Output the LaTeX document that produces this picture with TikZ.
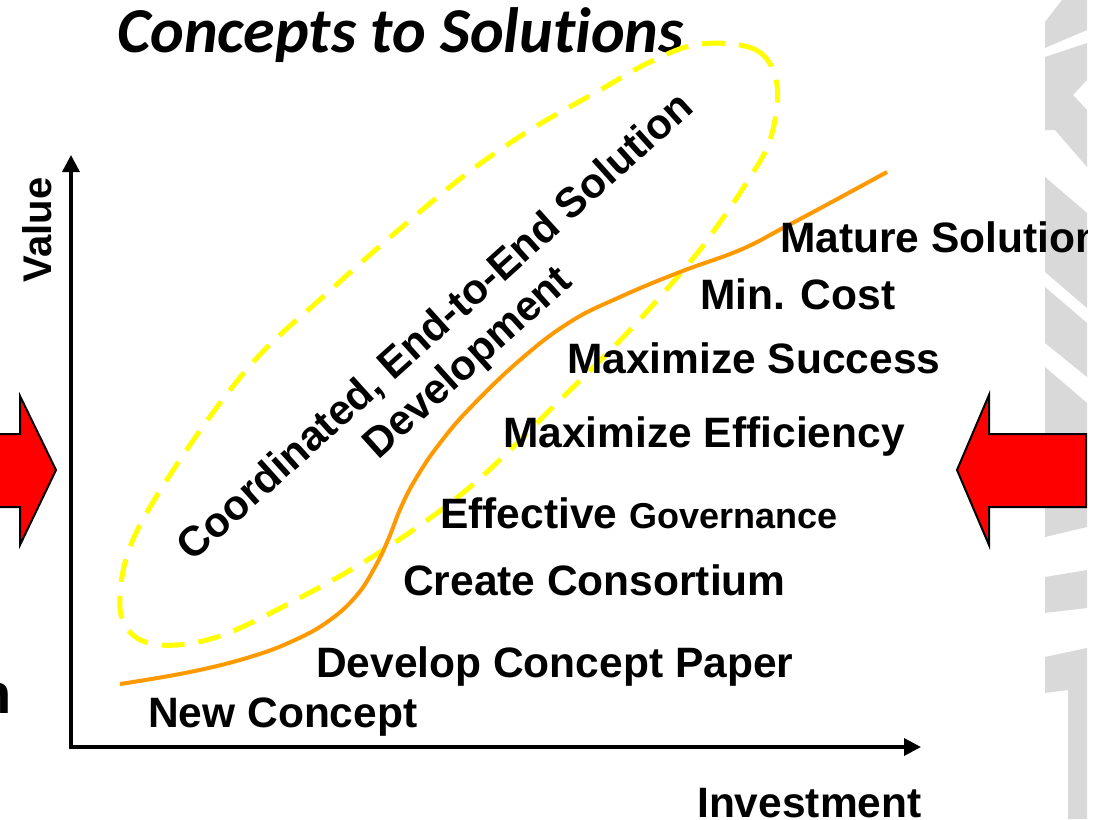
\documentclass[tikz,border=0pt]{standalone}
\usepackage{fontspec}
\setmainfont{Liberation Sans}
\newfontfamily\titlefont[Ligatures={NoCommon}]{Carlito}
\usetikzlibrary{arrows.meta}
\definecolor{wm}{HTML}{D9D9D9}
\definecolor{curveorange}{HTML}{FF9900}
\definecolor{loopyellow}{HTML}{FFFF00}
\definecolor{arrowred}{HTML}{FF0000}
\begin{document}
\begin{tikzpicture}[x=1pt,y=-1pt,
  lbl/.style={font=\fontsize{42.5}{48}\selectfont\bfseries, inner sep=0pt, anchor=base west},
  axisline/.style={line width=3.5pt, -{Triangle[width=17pt,length=17pt]}},
  bigarrow/.style={fill=arrowred, draw=black, line width=2pt, line join=miter},
  wmshape/.style={fill=wm, draw=none}]
\useasboundingbox (0,0) rectangle (1105,819);
\fill[white] (0,0) rectangle (1105,819);
% watermark fragments
\fill[wmshape] (1062,0) -- (1087,0) -- (1087,30) -- (1045,48) -- (1045,22) -- cycle;
\fill[wmshape] (1045,57) -- (1087,43) -- (1087,80) -- (1073,95) -- (1087,110) -- (1087,167) -- (1055,130) -- (1045,130) -- cycle;
\fill[wmshape] (1045,177) -- (1087,213) -- (1087,308) -- (1045,272) -- cycle;
\fill[wmshape] (1045,287) -- (1087,323) -- (1087,377) -- (1045,343) -- cycle;
\fill[wmshape] (1045,367) -- (1087,403) -- (1087,440) -- (1045,440) -- cycle;
\fill[wmshape] (1045,497) -- (1087,497) -- (1087,527) -- (1045,537) -- cycle;
\fill[wmshape] (1045,577) -- (1087,570) -- (1087,608) -- (1045,613) -- cycle;
\fill[wmshape] (1045,657) -- (1087,648) -- (1087,819) -- (1068,819) -- (1068,690) -- (1045,693) -- cycle;
% title
\node[font=\titlefont\fontsize{64}{70}\selectfont\bfseries\itshape, inner sep=0pt, anchor=base west] (title) at (117,52) {Concepts to Solutions};
% axes
\coordinate (origin) at (71,747);
\coordinate (ytip) at (71,155);
\coordinate (xtip) at (921,747);
\draw[axisline] ([yshift=1.75pt]origin) -- (ytip);
\draw[axisline] ([xshift=-1.75pt]origin) -- (xtip);
\node[font=\fontsize{40}{46}\selectfont\bfseries, inner sep=0pt, rotate=90] (value) at (37,230) {Value};
\node[lbl] (invest) at (697,817) {Investment};
% dashed loop
\draw[loopyellow, line width=5pt, dash pattern=on 23pt off 14pt]
  plot[smooth cycle, tension=0.6] coordinates {
  (700,44) (756,50) (777,85) (770,140) (745,185) (718,225) (690,262) (630,330)
  (560,400) (470,487) (380,552) (290,603) (217,637) (160,645) (128,630) (120,595)
  (135,535) (190,445) (255,360) (325,295) (395,233) (465,175) (530,130) (600,90) (650,62)};
% orange curve
\draw[curveorange, line width=4pt]
  plot[smooth, tension=0.7] coordinates {
  (120,684) (190,672) (250,657) (295,640) (330,620) (357,595) (375,567) (388,540)
  (402,505) (418,475) (440,443) (470,408) (520,360) (570,322) (620,297) (680,272)
  (740,250) (783,228) (830,203) (887,172)};
% stage labels
\node[lbl] (mature) at (780,252) {Mature Solution};
\node[lbl] (mincost) at (700,309) {Min. Cost};
\node[lbl] (maxsucc) at (567,373) {Maximize Success};
\node[lbl] (maxeff) at (503,447) {Maximize Efficiency};
\node[lbl] (effgov) at (440,528) {Effective {\fontsize{36}{40}\selectfont Governance}};
\node[lbl] (consort) at (403,595) {Create Consortium};
\node[lbl] (paper) at (316,677) {Develop Concept Paper};
\node[lbl] (newc) at (148,727) {New Concept};
% rotated loop label
\node[font=\fontsize{42}{48}\selectfont\bfseries, inner sep=0pt, rotate=42, align=center] (coord) at (453,346)
  {Coordinated, End-to-End Solution\\Development};
% red arrows
\draw[bigarrow] (-10,434) -- (20,434) -- (20,396) -- (56,470) -- (20,545) -- (20,507) -- (-10,507) -- cycle;
\draw[bigarrow] (1086,434) -- (989,434) -- (989,395) -- (957,470) -- (989,545) -- (989,507) -- (1086,507) -- cycle;
% cut-off text at left edge
\node[font=\fontsize{56}{60}\selectfont\bfseries, inner sep=0pt, anchor=base east] (cutn) at (12,713) {n};
% blank right margin of the original slide
\fill[white] (1088,-1) rectangle (1106,820);
\end{tikzpicture}
\end{document}
